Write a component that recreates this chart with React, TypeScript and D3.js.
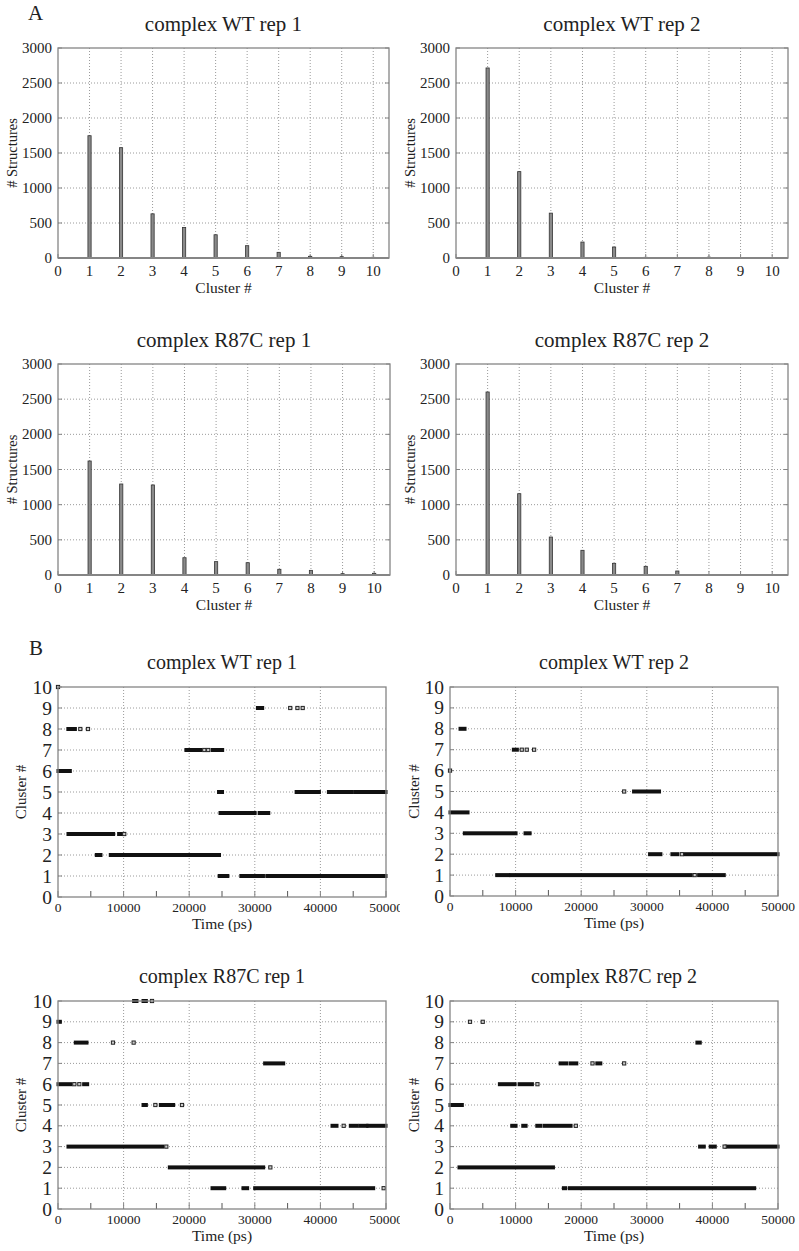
import React from "react";
import * as d3 from "d3";

// ---------- DATA ----------
const clusterIds = [1, 2, 3, 4, 5, 6, 7, 8, 9, 10];
const barXTicks = [0, 1, 2, 3, 4, 5, 6, 7, 8, 9, 10];
const barYTicks = [0, 500, 1000, 1500, 2000, 2500, 3000];

const wtRep1Counts = [1747, 1576, 631, 437, 332, 176, 81, 24, 19, 10];
const wtRep2Counts = [2715, 1234, 641, 228, 157, 10, 8, 12, 0, 0];
const r87cRep1Counts = [1621, 1294, 1280, 246, 190, 175, 81, 66, 19, 24];
const r87cRep2Counts = [2602, 1156, 540, 351, 166, 123, 57, 0, 0, 0];

const timeXTicks = [0, 10000, 20000, 30000, 40000, 50000];
const timeMinorTicks = [5000, 15000, 25000, 35000, 45000];
const timeYTicks = [0, 1, 2, 3, 4, 5, 6, 7, 8, 9, 10];

// [cluster, start ps, end ps]
const wtRep1Segments = [
  [9, 30400, 31200],
  [8, 1500, 2650],
  [7, 19500, 21800], [7, 23500, 25100],
  [6, 0, 1880],
  [5, 24470, 25080], [5, 36300, 39850], [5, 41220, 44870], [5, 45280, 50000],
  [4, 24700, 30050], [4, 30660, 32130],
  [3, 1520, 8480], [3, 9240, 9700],
  [2, 5840, 6550], [2, 7970, 24620],
  [1, 24570, 25890], [1, 27870, 31320], [1, 31830, 50000],
];
// [cluster, time ps]
const wtRep1Points = [
  [10, 0], [9, 35400], [9, 36500], [9, 37300], [8, 3400], [8, 4570],
  [7, 22300], [7, 22900], [3, 10100],
];

const wtRep2Segments = [
  [8, 1530, 2290],
  [7, 9660, 10270],
  [5, 27980, 31940],
  [4, 0, 2750],
  [3, 2190, 10070], [3, 11440, 12210],
  [2, 30420, 32150], [2, 33830, 34740], [2, 35860, 50000],
  [1, 7120, 8950], [1, 9260, 36780], [1, 37900, 41810],
];
const wtRep2Points = [
  [6, 0], [7, 10940], [7, 11700], [7, 12820], [5, 26550], [2, 35350], [1, 37300],
];

const r87cRep1Segments = [
  [10, 11530, 12040], [10, 12960, 13470],
  [9, 0, 360],
  [8, 2640, 4420],
  [7, 31500, 34400],
  [6, 0, 1980], [6, 3910, 4520],
  [5, 12960, 13470], [5, 15600, 17630],
  [4, 41770, 42530], [4, 44560, 45580], [4, 45990, 47100], [4, 47210, 50000],
  [3, 1520, 15950],
  [2, 16970, 31350],
  [1, 23480, 25410], [1, 28200, 28910], [1, 29980, 48120],
];
const r87cRep1Points = [
  [10, 14330], [8, 8380], [8, 11530], [6, 2490], [6, 3250], [5, 14840],
  [5, 18900], [4, 43550], [3, 16510], [2, 32370], [1, 49640],
];

const r87cRep2Segments = [
  [8, 37640, 38150],
  [7, 16790, 17800], [7, 18310, 19330], [7, 22380, 22990],
  [6, 7530, 9920], [6, 10530, 12560],
  [5, 0, 1880],
  [4, 9410, 10070], [4, 11090, 11600], [4, 13230, 13840], [4, 14340, 18460],
  [3, 38050, 38760], [3, 39670, 40440], [3, 42070, 50000],
  [2, 1370, 15770],
  [1, 17290, 17650], [1, 18210, 46440],
];
const r87cRep2Points = [
  [9, 3050], [9, 4990], [7, 21720], [7, 26550], [6, 13330], [4, 19180], [3, 41860],
];

// ---------- STYLE ----------
const FONT = "Liberation Serif, Times New Roman, Tinos, DejaVu Serif, Noto Serif, serif";
const FRAME = "#858585";
const GRID = "#9a9a9a";
const TXT = "#222";
const ts = (size: number) => ({ fontFamily: FONT, fontSize: size + "px", fill: TXT });

type Box = { left: number; right: number; top: number; bottom: number };

function BarPanel({ box, title, counts, labelX }: any) {
  const { left, right, top, bottom } = box as Box;
  const x = d3.scaleLinear().domain([0, 10.5]).range([left, right]);
  const y = d3.scaleLinear().domain([0, 3000]).range([bottom, top]);
  const bw = 3.2;
  return (
    <g>
      <text x={(left + right) / 2} y={top - 17} textAnchor="middle" style={ts(21)}>
        {title}
      </text>
      {barXTicks.filter((t) => t > 0).map((t) => (
        <line key={"gx" + t} x1={x(t)} x2={x(t)} y1={top} y2={bottom} stroke={GRID} strokeWidth={1} strokeDasharray="1,2" />
      ))}
      {barYTicks.filter((t) => t > 0 && t < 3000).map((t) => (
        <line key={"gy" + t} x1={left} x2={right} y1={y(t)} y2={y(t)} stroke={GRID} strokeWidth={1} strokeDasharray="1,2" />
      ))}
      {barYTicks.map((t) => (
        <g key={"ty" + t}>
          <line x1={left} x2={left + 4} y1={y(t)} y2={y(t)} stroke={FRAME} />
          <line x1={right - 4} x2={right} y1={y(t)} y2={y(t)} stroke={FRAME} />
          <text x={left - 6} y={y(t) + 5} textAnchor="end" style={ts(15)}>{t}</text>
        </g>
      ))}
      {barXTicks.map((t) => (
        <g key={"tx" + t}>
          <line x1={x(t)} x2={x(t)} y1={bottom} y2={bottom - 4} stroke={FRAME} />
          <text x={x(t)} y={bottom + 18} textAnchor="middle" style={ts(15)}>{t}</text>
        </g>
      ))}
      {counts.map((c: number, i: number) =>
        c > 0 ? (
          <rect key={"b" + i} x={x(clusterIds[i]) - bw / 2} y={y(c)} width={bw} height={bottom - y(c)}
            fill="#8a8a8a" stroke="#333" strokeWidth={0.8} />
        ) : null
      )}
      <rect x={left} y={top} width={right - left} height={bottom - top} fill="none" stroke={FRAME} strokeWidth={1.3} />
      <line x1={left} x2={right} y1={bottom} y2={bottom} stroke={FRAME} strokeWidth={2} />
      <text x={(left + right) / 2} y={bottom + 35} textAnchor="middle" style={ts(15.5)}>Cluster #</text>
      <text transform={`translate(${labelX},${(top + bottom) / 2}) rotate(-90)`} textAnchor="middle" dy="0.35em"
        style={ts(14.5)}># Structures</text>
    </g>
  );
}

function TimePanel({ box, title, segments, points, labelX, clipId }: any) {
  const { left, right, top, bottom } = box as Box;
  const x = d3.scaleLinear().domain([0, 50000]).range([left, right]);
  const y = d3.scaleLinear().domain([0, 10]).range([bottom, top]);
  const sh = 4;
  return (
    <g clipPath={clipId ? `url(#${clipId})` : undefined}>
      <text x={(left + right) / 2} y={top - 18} textAnchor="middle" style={ts(20)}>
        {title}
      </text>
      {timeXTicks.filter((t) => t > 0 && t < 50000).map((t) => (
        <line key={"gx" + t} x1={x(t)} x2={x(t)} y1={top} y2={bottom} stroke={GRID} strokeWidth={1} strokeDasharray="1,2" />
      ))}
      {timeYTicks.filter((t) => t > 0 && t < 10).map((t) => (
        <line key={"gy" + t} x1={left} x2={right} y1={y(t)} y2={y(t)} stroke={GRID} strokeWidth={1} strokeDasharray="1,2" />
      ))}
      {timeYTicks.map((t) => (
        <g key={"ty" + t}>
          <line x1={left} x2={left + 4} y1={y(t)} y2={y(t)} stroke={FRAME} />
          <text x={left - 6} y={y(t) + 6.5} textAnchor="end" style={ts(19.5)}>{t}</text>
        </g>
      ))}
      {timeXTicks.map((t) => (
        <g key={"tx" + t}>
          <line x1={x(t)} x2={x(t)} y1={bottom} y2={bottom - 6} stroke={FRAME} />
          <text x={x(t)} y={bottom + 14.5} textAnchor="middle" style={ts(13.5)}>{t}</text>
        </g>
      ))}
      {timeMinorTicks.map((t) => (
        <line key={"mx" + t} x1={x(t)} x2={x(t)} y1={bottom} y2={bottom - 6} stroke="#555" />
      ))}
      {segments.map((s: number[], i: number) => (
        <rect key={"s" + i} x={x(s[1]) - 1.5} y={y(s[0]) - sh / 2} width={Math.max(3, x(s[2]) - x(s[1]) + 3)}
          height={sh} fill="#111" />
      ))}
      {points.map((p: number[], i: number) => (
        <rect key={"p" + i} x={x(p[1]) - 1.6} y={y(p[0]) - 1.6} width={3.2} height={3.2} fill="#ccc" stroke="#222" strokeWidth={1} />
      ))}
      <rect x={left} y={top} width={right - left} height={bottom - top} fill="none" stroke={FRAME} strokeWidth={1.3} />
      <text x={(left + right) / 2} y={bottom + 31.5} textAnchor="middle" style={ts(15.5)}>Time (ps)</text>
      <text transform={`translate(${labelX},${(top + bottom) / 2}) rotate(-90)`} textAnchor="middle" dy="0.35em"
        style={ts(15)}>Cluster #</text>
    </g>
  );
}

export default function App() {
  return (
    <svg width={799} height={1251} style={{ position: "absolute", left: 0, top: 0, background: "#fff", fontFamily: FONT }}>
      <defs>
        <clipPath id="clipLeft">
          <rect x={0} y={0} width={400} height={1251} />
        </clipPath>
      </defs>
      <rect x={0} y={0} width={799} height={1251} fill="#fff" />
      <text x={28} y={20} style={ts(21)}>A</text>
      <text x={29} y={655} style={ts(21)}>B</text>

      <BarPanel box={{ left: 58, right: 389, top: 48, bottom: 258 }} title="complex WT rep 1" counts={wtRep1Counts} labelX={12} />
      <BarPanel box={{ left: 456, right: 788, top: 48, bottom: 258 }} title="complex WT rep 2" counts={wtRep2Counts} labelX={410} />
      <BarPanel box={{ left: 58, right: 390, top: 364, bottom: 575 }} title="complex R87C rep 1" counts={r87cRep1Counts} labelX={12} />
      <BarPanel box={{ left: 456, right: 788, top: 364, bottom: 575 }} title="complex R87C rep 2" counts={r87cRep2Counts} labelX={410} />

      <TimePanel box={{ left: 58, right: 386, top: 687, bottom: 897 }} title="complex WT rep 1"
        segments={wtRep1Segments} points={wtRep1Points} labelX={21} clipId="clipLeft" />
      <TimePanel box={{ left: 450, right: 778, top: 687, bottom: 896 }} title="complex WT rep 2"
        segments={wtRep2Segments} points={wtRep2Points} labelX={414} />
      <TimePanel box={{ left: 58, right: 386, top: 1001, bottom: 1209 }} title="complex R87C rep 1"
        segments={r87cRep1Segments} points={r87cRep1Points} labelX={21} clipId="clipLeft" />
      <TimePanel box={{ left: 450, right: 778, top: 1001, bottom: 1209 }} title="complex R87C rep 2"
        segments={r87cRep2Segments} points={r87cRep2Points} labelX={414} />
    </svg>
  );
}
